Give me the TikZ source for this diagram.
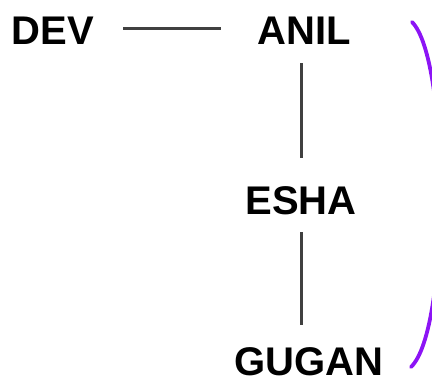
\documentclass[tikz,border=0pt]{standalone}
\usepackage{fontspec}
\setmainfont{Liberation Sans}
\definecolor{linkgray}{RGB}{64,64,64}
\definecolor{bracketpurple}{RGB}{140,20,245}
\begin{document}
\begin{tikzpicture}[x=1pt,y=-1pt,
  person/.style={anchor=base,inner sep=0pt,font=\fontsize{40}{40}\selectfont\bfseries},
  conn/.style={draw=linkgray,line width=3pt},
  bracket/.style={draw=bracketpurple,line width=3.8pt,line cap=round}]
\useasboundingbox (0,0) rectangle (432,380);
\clip (0,0) rectangle (432,380);
\node[person] (dev) at (53,45) {DEV};
\node[person] (anil) at (304,45) {ANIL};
\node[person] (esha) at (301,214) {ESHA};
\node[person] (gugan) at (309,375) {GUGAN};
\draw[conn,shorten <=70pt,shorten >=83pt] ([yshift=3pt]dev.center) -- ([yshift=3pt]anil.center);
\draw[conn,shorten <=32pt,shorten >=42pt] (anil.center -| esha.center) -- (esha.center);
\draw[conn,shorten <=32pt,shorten >=36pt] (esha.center) -- (gugan.center -| esha.center);
\coordinate (btop) at (412,22);
\coordinate (bbot) at (411,367);
\draw[bracket] (btop) .. controls (450,60) and (450,330) .. (bbot);
\end{tikzpicture}
\end{document}
